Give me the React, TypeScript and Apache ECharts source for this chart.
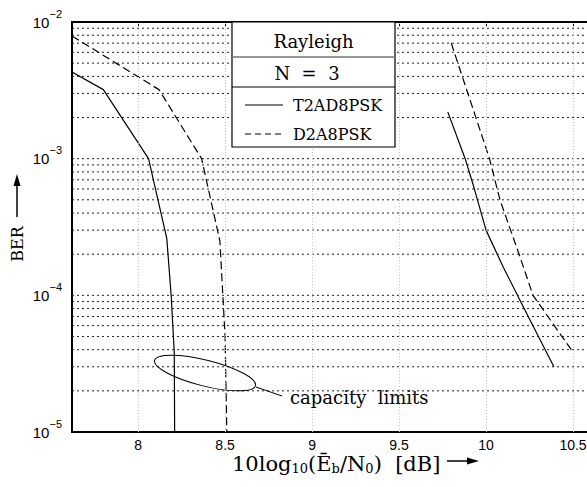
import React, { useEffect, useRef } from 'react';
import * as echarts from 'echarts';

// ---- data ----
const xMin = 7.62;
const xMax = 10.6;
const xTicks = [8, 8.5, 9, 9.5, 10, 10.5];
const yDecadeExponents = [-5, -4, -3];
const gridMultipliers = [1, 2, 3, 4, 5, 6, 7, 8, 9];

// T2AD8PSK (solid)
const t2adLowSnr = [
  [7.62, 4.3e-3], [7.8, 3.2e-3], [8.06, 1.0e-3], [8.165, 2.6e-4],
  [8.19, 1.0e-4], [8.208, 3.8e-5], [8.21, 1e-5],
];
const t2adHighSnr = [
  [9.78, 2.2e-3], [9.88, 1.0e-3], [9.93, 6.2e-4], [10.0, 3.0e-4],
  [10.1, 1.6e-4], [10.195, 9.2e-5], [10.39, 3.0e-5],
];
// D2A8PSK (dashed)
const d2aLowSnr = [
  [7.62, 7.9e-3], [8.12, 3.2e-3], [8.365, 1.0e-3], [8.47, 2.5e-4],
  [8.5, 5e-5], [8.51, 1e-5],
];
const d2aHighSnr = [
  [9.8, 7.0e-3], [10.02, 1.0e-3], [10.08, 5.0e-4], [10.19, 2.0e-4],
  [10.27, 1.0e-4], [10.49, 4.0e-5],
];

const SERIF = '"DejaVu Serif", serif';
const SANS = '"Liberation Sans", Arial, sans-serif';

export default function App() {
  const ref = useRef<HTMLDivElement>(null);
  useEffect(() => {
    if (!ref.current) return;
    const chart = echarts.init(ref.current, undefined, { renderer: 'svg' });

    const yGridValues: number[] = [];
    yDecadeExponents.forEach((e) => {
      gridMultipliers.forEach((m) => {
        const v = m * Math.pow(10, e);
        if (v > 1.0001e-5) yGridValues.push(v);
      });
    });
    const yGridSeries = yGridValues.map((v) => ({
      type: 'line',
      data: [[xMin, v], [xMax, v]],
      z: 1,
      symbol: 'none',
      silent: true,
      lineStyle: { color: '#222', type: [2, 3], width: 1 },
    }));
    const xGrid = xTicks.map((v) => ({ xAxis: v, lineStyle: { color: '#c4c4c4', type: [1, 2], width: 1 } }));

    const lineSeries = (name: string, data: number[][], dashed: boolean) => ({
      name,
      type: 'line',
      data,
      z: 3,
      symbol: 'none',
      showSymbol: false,
      silent: true,
      lineStyle: { color: '#000', width: 1.2, type: dashed ? [8, 4] : 'solid' },
    });

    const option: any = {
      animation: false,
      backgroundColor: '#fff',
      grid: {
        left: 72, top: 22, right: 9.6, bottom: 55,
        show: true, borderColor: '#000', borderWidth: 2, backgroundColor: 'transparent',
      },
      xAxis: [
        {
          type: 'value', min: xMin, max: xMax,
          axisLine: { show: false },
          splitLine: { show: false },
          axisTick: { show: false },
          axisLabel: {
            customValues: xTicks,
            formatter: (v: number) => String(v),
            fontFamily: SANS, fontSize: 14, color: '#000', margin: 6,
          },
        },
        {
          type: 'value', min: xMin, max: xMax, position: 'top',
          axisLine: { show: false },
          splitLine: { show: false },
          axisLabel: { show: false },
          axisTick: { show: true, inside: true, length: 5, customValues: xTicks, lineStyle: { color: '#000', width: 1 } },
        },
      ],
      yAxis: {
        type: 'log', logBase: 10, min: 1e-5, max: 1e-2, splitNumber: 3,
        axisLine: { show: false },
        axisTick: { show: false },
        splitLine: { show: false },
        minorTick: { show: false },
        axisLabel: {
          margin: 10,
          formatter: (v: number) => `{b|10}{s|\u2212${Math.round(-Math.log10(v))}}`,
          rich: {
            b: { fontFamily: SANS, fontSize: 15, lineHeight: 28, color: '#000', verticalAlign: 'middle' },
            s: { fontFamily: SANS, fontSize: 11, lineHeight: 11, color: '#000', verticalAlign: 'top' },
          },
        },
      },
      series: [
        {
          type: 'line', data: [[xMin, 1e-3]], z: 1, silent: true, symbol: 'none',
          lineStyle: { opacity: 0 },
          markLine: {
            silent: true, symbol: ['none', 'none'], label: { show: false },
            animation: false,
            data: xGrid,
          },
        },
        ...yGridSeries,
        lineSeries('T2AD8PSK', t2adLowSnr, false),
        lineSeries('T2AD8PSK', t2adHighSnr, false),
        lineSeries('D2A8PSK', d2aLowSnr, true),
        lineSeries('D2A8PSK', d2aHighSnr, true),
      ],
      graphic: [
        // legend box
        { type: 'rect', z: 100, shape: { x: 232, y: 22, width: 163, height: 125 }, style: { fill: '#fff', stroke: '#000', lineWidth: 1.2 } },
        { type: 'line', z: 101, shape: { x1: 232, y1: 57, x2: 395, y2: 57 }, style: { stroke: '#777', lineWidth: 1.6 } },
        { type: 'line', z: 101, shape: { x1: 232, y1: 87, x2: 395, y2: 87 }, style: { stroke: '#000', lineWidth: 1 } },
        { type: 'text', z: 101, style: { text: 'Rayleigh', x: 313.5, y: 41, align: 'center', verticalAlign: 'middle', font: `18px ${SERIF}`, fill: '#000' } },
        { type: 'text', z: 101, style: { text: 'N\u00a0\u00a0=\u00a0\u00a03', x: 307, y: 73, align: 'center', verticalAlign: 'middle', font: `18px ${SERIF}`, fill: '#000' } },
        { type: 'line', z: 101, shape: { x1: 245, y1: 105, x2: 283, y2: 105 }, style: { stroke: '#000', lineWidth: 1.2 } },
        { type: 'line', z: 101, shape: { x1: 245, y1: 134, x2: 283, y2: 134 }, style: { stroke: '#000', lineWidth: 1.2, lineDash: [6, 4] } },
        { type: 'text', z: 101, style: { text: 'T2AD8PSK', x: 293, y: 105, align: 'left', verticalAlign: 'middle', font: `16px ${SERIF}`, fill: '#000' } },
        { type: 'text', z: 101, style: { text: 'D2A8PSK', x: 293, y: 134, align: 'left', verticalAlign: 'middle', font: `16px ${SERIF}`, fill: '#000' } },
        // capacity limits annotation
        { type: 'ellipse', z: 100, x: 205, y: 373, rotation: -0.245, shape: { cx: 0, cy: 0, rx: 52, ry: 13 }, style: { fill: 'none', stroke: '#000', lineWidth: 1 } },
        { type: 'line', z: 100, shape: { x1: 256, y1: 387, x2: 282, y2: 396 }, style: { stroke: '#000', lineWidth: 1 } },
        { type: 'text', z: 100, style: { text: 'capacity\u00a0\u00a0limits', x: 290, y: 397, align: 'left', verticalAlign: 'middle', font: `18px ${SERIF}`, fill: '#000' } },
        // y axis title
        { type: 'text', z: 100, x: 17, y: 244, rotation: Math.PI / 2, style: { text: 'BER', x: 0, y: 0, align: 'center', verticalAlign: 'middle', font: `16px ${SERIF}`, fill: '#000' } },
        { type: 'line', z: 100, shape: { x1: 17, y1: 217, x2: 17, y2: 184 }, style: { stroke: '#000', lineWidth: 1.5 } },
        { type: 'polygon', z: 100, shape: { points: [[17, 174], [13.5, 186], [20.5, 186]] }, style: { fill: '#000' } },
        // x axis title
        {
          type: 'text', z: 100,
          style: {
            text: '{m|10log}{s|10}{m|(\u0112}{s|b}{m|/N}{s|0}{m|)\u00a0\u00a0[dB]}',
            x: 232, y: 464, align: 'left', verticalAlign: 'middle',
            rich: {
              m: { fontFamily: SERIF, fontSize: 21, lineHeight: 22, fill: '#000', color: '#000', verticalAlign: 'middle' },
              s: { fontFamily: SERIF, fontSize: 13, lineHeight: 12, fill: '#000', color: '#000', verticalAlign: 'bottom' },
            },
          },
        },
        { type: 'line', z: 100, shape: { x1: 447, y1: 461, x2: 468, y2: 461 }, style: { stroke: '#000', lineWidth: 1.5 } },
        { type: 'polygon', z: 100, shape: { points: [[479, 461], [467, 457.5], [467, 464.5]] }, style: { fill: '#000' } },
      ],
    };
    chart.setOption(option);
    return () => chart.dispose();
  }, []);

  return (
    <div style={{ position: 'fixed', left: 0, top: 0, width: 587, height: 487, overflow: 'hidden', background: '#fff' }}>
      <div ref={ref} style={{ width: 600, height: 487 }} />
    </div>
  );
}
